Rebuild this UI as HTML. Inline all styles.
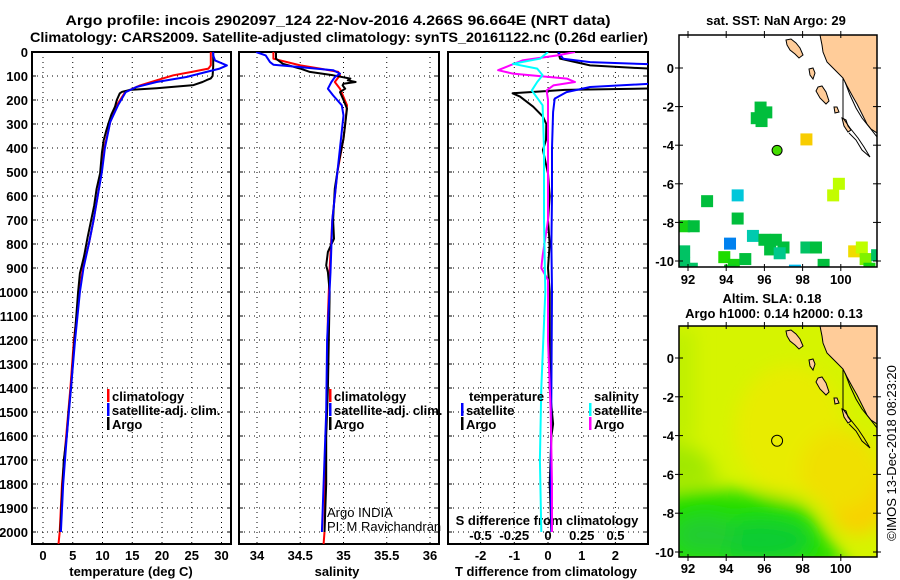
<!DOCTYPE html>
<html><head><meta charset="utf-8"><style>
html,body{margin:0;padding:0;background:#fff;}
svg{display:block;font-family:"Liberation Sans",sans-serif;}
.b{font-weight:bold;font-size:13px;}
.n{font-weight:normal;font-size:13px;}
</style></head><body>
<svg id="chart" xmlns="http://www.w3.org/2000/svg" width="900" height="580" viewBox="0 0 900 580">
<defs>
<clipPath id="c1"><rect x="32" y="52" width="199" height="492"/></clipPath>
<clipPath id="c2"><rect x="239" y="52" width="200" height="492"/></clipPath>
<clipPath id="c3"><rect x="448" y="52" width="200" height="492"/></clipPath>
<clipPath id="cm1"><rect x="679" y="35" width="198" height="232"/></clipPath>
<clipPath id="cm2"><rect x="679" y="326" width="198" height="231"/></clipPath>
<filter id="blur" x="-20%" y="-20%" width="140%" height="140%"><feGaussianBlur stdDeviation="9"/></filter>
<g id="land">
<polygon points="820,35 822,45 823,52 827,62 832,67 837,72 843,78 847,86 853,97 857,104 860,110 864,118 867,124 871,129 877,133 877,35" fill="#ffcc99" stroke="#000" stroke-width="1"/>
<polygon points="786,40 791,39 796,43 800,48 803,55 799,58 795,54 790,50 787,45" fill="#ffcc99" stroke="#000" stroke-width="1"/>
<polygon points="809,69 813,68 815,73 813,79 810,75" fill="#ffcc99" stroke="#000" stroke-width="1"/>
<polygon points="818,87 822,86 826,92 829,101 826,104 820,98 816,91" fill="#ffcc99" stroke="#000" stroke-width="1"/>
<polygon points="834,107 837,107 839,112 835,113" fill="#ffcc99" stroke="#000" stroke-width="1"/>
<polygon points="842,118 846,120 848,126 851,130 848,132 844,126" fill="#ffcc99" stroke="#000" stroke-width="1"/>
<polyline points="843,78 843,118" fill="none" stroke="#000" stroke-width="1"/>
<polyline points="845,82 850,95 856,108 862,118 870,128 877,137" fill="none" stroke="#000" stroke-width="1"/>
<polyline points="843,118 850,128 858,138 864,147 870,157 862,150 856,140 849,133" fill="none" stroke="#000" stroke-width="1"/>
</g>
</defs>
<g id="layer"></g>
</svg>
<script>
// ---------- data ----------
const depthTicks = [0,100,200,300,400,500,600,700,800,900,1000,1100,1200,1300,1400,1500,1600,1700,1800,1900,2000];
const tempTicks = [0,5,10,15,20,25,30];
const salTicks = [34,34.5,35,35.5,36];
const salTickLabels = ["34","34.5","35","35.5","36"];
const tdTicks = [-2,-1,0,1,2];
const sdTicks = [-0.5,-0.25,0,0.25,0.5];
const sdTickLabels = ["-0.5","-0.25","0","0.25","0.5"];

const argoTDepth = [0,20,60,100,110,117,125,138,151,158,166,172,200,228,260,297,330,367,420,506,570,639,700,772,850,922,1000,1100,1200,1300,1400,1500,1600,1700,1800,1900,2000];
const argoT = [28.6,28.6,28.6,28.5,28.2,27.5,26.8,25.3,19.1,14.6,13.3,12.9,12.4,12.1,11.5,11.0,10.6,10.2,9.9,9.6,9.0,8.6,8.1,7.5,6.9,6.2,5.9,5.6,5.3,5.0,4.7,4.3,4.0,3.5,3.3,3.1,2.9];
const climTDepth = [0,56,69,83,97,118,139,167,222,292,400,500,600,700,800,900,1000,1200,1400,1600,1800,2000,2050];
const climT = [28.2,28.2,27.8,25.0,21.9,19.1,16.3,13.8,12.4,11.3,10.3,9.8,9.2,8.5,7.7,6.7,6.1,5.2,4.6,3.9,3.2,2.8,2.6];
const satTDepth = [0,14,35,56,69,83,104,125,146,167,222,292,400,500,600,700,800,900,1000,1200,1400,1600,1800,2000];
const satT = [28.6,28.6,28.9,30.9,29.7,27.5,24.1,19.1,15.7,13.9,12.6,11.3,10.4,9.9,9.2,8.5,7.7,6.8,6.2,5.4,4.7,4.0,3.4,3.0];

const argoSDepth = [0,28,49,69,83,97,111,118,125,132,139,153,167,200,236,300,361,450,569,700,778,833,889,917,1000,1200,1400,1600,1800,2000];
const argoS = [34.22,34.22,34.3,34.5,34.61,34.88,35.08,35.05,35.14,35.0,34.99,35.02,34.96,35.0,35.04,35.02,35.0,34.95,34.9,34.88,34.89,34.82,34.8,34.82,34.84,34.83,34.82,34.8,34.8,34.78];
const climSDepth = [0,28,56,69,83,97,125,153,222,300,361,500,700,900,1100,1400,1700,2000,2050];
const climS = [34.19,34.19,34.5,34.73,34.94,34.96,34.9,34.96,35.04,35.02,35.0,34.93,34.87,34.84,34.82,34.81,34.79,34.78,34.77];
const satSDepth = [0,14,42,53,63,76,90,105,125,153,181,222,264,400,500,700,917,1200,1500,1800,2000];
const satS = [33.99,34.1,34.15,34.19,34.5,34.88,34.96,34.9,34.86,34.82,34.88,34.98,35.0,34.96,34.93,34.87,34.85,34.81,34.8,34.77,34.75];

const argoTdDepth = [0,28,56,66,76,150,158,172,186,228,269,300,367,408,506,600,700,800,900,1000,1200,1400,1550,1600,1800,2000];
const argoTd = [0.3,0.36,1.25,2.5,4,4,0.5,-1.05,-0.83,-0.44,-0.15,-0.05,-0.06,-0.15,0.0,0.05,0.0,0.05,0.0,0.05,0.05,0.05,0.15,0.1,0.05,0.1];
const satTdDepth = [0,28,42,56,125,146,167,194,250,400,600,800,1000,1400,1800,2000];
const satTd = [0.3,0.45,1.25,4,4,1.25,0.55,0.2,0.15,0.12,0.12,0.1,0.12,0.1,0.08,0.1];
const argoSdDepth = [0,14,35,76,90,111,125,139,160,200,300,500,700,850,900,950,1200,1500,1800,2000];
const argoSd = [0.2,0.07,-0.19,-0.37,-0.26,0.14,0.2,0.04,-0.01,0.0,0.0,0.0,0.0,-0.04,-0.05,0.0,0.0,0.02,0.03,0.03];
const satSdDepth = [0,28,49,69,97,125,160,222,400,700,1000,1400,1700,2000];
const satSd = [0,-0.06,-0.26,-0.08,-0.04,-0.08,-0.12,-0.04,-0.03,-0.03,-0.02,-0.05,-0.06,-0.05];

const mapLonTicks = [92,94,96,98,100];
const mapLatTicks = [0,-2,-4,-6,-8,-10];
const sstLon = [95.8,96.1,95.6,95.85,98.2,99.9,99.6,94.6,93.0,94.6,91.8,92.3,95.4,94.2,96.0,96.6,97.0,96.3,96.8,98.2,98.7,99.1,97.6,93.9,94.4,95.0,94.2,91.8,91.8,92.2,100.7,101.1,101.3,101.5,101.9];
const sstLat = [-2.05,-2.3,-2.6,-2.75,-3.7,-6.0,-6.6,-6.6,-6.9,-7.8,-8.2,-8.2,-8.7,-9.1,-8.9,-8.9,-9.3,-9.4,-9.6,-9.3,-9.3,-10.2,-10.5,-9.8,-10.2,-9.9,-10.5,-9.5,-10.1,-10.4,-9.5,-9.3,-9.9,-10.4,-9.7];
const sstVal = [0.55,0.55,0.55,0.55,0.9,0.75,0.76,0.32,0.55,0.55,0.6,0.55,0.4,0.15,0.55,0.55,0.55,0.55,0.45,0.5,0.55,0.55,0.25,0.62,0.6,0.55,0.58,0.5,0.5,0.5,0.85,0.75,0.7,0.6,0.5];
const argoLon = 96.664, argoLat = -4.266;

// ---------- scales ----------
const yD = d => 52 + d*0.24;
const xT = t => 43 + t*5.95;
const xS = s => 257 + (s-34)*86.5;
const xTd = v => 548 + v*33.7;
const xSd = v => 548 + v*135;
const xLon = lon => 688 + (lon-92)*19.1;
const yLat1 = lat => 68 - lat*19.3;
const yLat2 = lat => 358 - lat*19.4;

const NS = "http://www.w3.org/2000/svg";
const layer = document.getElementById('layer');
function mk(tag, attrs, parent){ const e=document.createElementNS(NS,tag); for(const k in attrs) e.setAttribute(k,attrs[k]); (parent||layer).appendChild(e); return e; }
function txt(x,y,s,anchor,cls,parent){ const t=mk('text',{x:x,y:y,'text-anchor':anchor||'middle',class:cls||'b'},parent); t.textContent=s; return t; }

// ---------- titles ----------
let t1 = txt(338,25,"Argo profile: incois 2902097_124 22-Nov-2016 4.266S 96.664E (NRT data)");
t1.setAttribute('style','font-size:14px'); t1.setAttribute('textLength','545'); t1.setAttribute('lengthAdjust','spacingAndGlyphs');


let t2 = txt(339,42,"Climatology: CARS2009. Satellite-adjusted climatology: synTS_20161122.nc (0.26d earlier)");
t2.setAttribute('style','font-size:14px'); t2.setAttribute('textLength','618'); t2.setAttribute('lengthAdjust','spacingAndGlyphs');



// ---------- profile panels ----------
const panels = [
  {x0:32,x1:231,clip:'c1',name:'temperature-panel',ticks:tempTicks,labels:tempTicks.map(String),sx:xT,xlabel:'temperature (deg C)',xlc:131},
  {x0:239,x1:439,clip:'c2',name:'salinity-panel',ticks:salTicks,labels:salTickLabels,sx:xS,xlabel:'salinity',xlc:337},
  {x0:448,x1:648,clip:'c3',name:'difference-panel',ticks:tdTicks,labels:tdTicks.map(String),sx:xTd,xlabel:'T difference from climatology',xlc:546}
];
panels.forEach((p,pi)=>{
  const g = mk('g',{});
  
  
  depthTicks.forEach(d=>{
    const l = mk('line',{x1:p.x0,x2:p.x1,y1:yD(d),y2:yD(d),stroke:'#000','stroke-width':1,'stroke-dasharray':'1,4'},g);
    
    
    mk('line',{x1:p.x0,x2:p.x0+4,y1:yD(d),y2:yD(d),stroke:'#000'},g);
    mk('line',{x1:p.x1-4,x2:p.x1,y1:yD(d),y2:yD(d),stroke:'#000'},g);
  });
  p.ticks.forEach((v,i)=>{
    const x = p.sx(v);
    const l = mk('line',{x1:x,x2:x,y1:52,y2:544,stroke:'#000','stroke-width':1,'stroke-dasharray':'1,4'},g);
    
    
    const tl = txt(x,560,p.labels[i],'middle','b',g);
    
    
  });
  const fr = mk('rect',{x:p.x0,y:52,width:p.x1-p.x0,height:492,fill:'none',stroke:'#000','stroke-width':2},g);
  
  
  const xl = txt(p.xlc,576,p.xlabel,'middle','b',g);
  
  
});
depthTicks.forEach(d=>{
  const tl = txt(28,yD(d)+5,String(d),'end');
  
  
});

const sdTitle = txt(547,525,'S difference from climatology');


sdTicks.forEach((v,i)=>{
  const tl = txt(xSd(v),540,sdTickLabels[i]);
  
  
});

function series(depths, vals, sx, color, clip, name){
  const pts = depths.map((d,i)=> sx(vals[i]).toFixed(1)+','+yD(d).toFixed(1)).join(' ');
  const pl = mk('polyline',{points:pts,fill:'none',stroke:color,'stroke-width':2,'stroke-linejoin':'round','clip-path':'url(#'+clip+')'});
  
  
}
series(climTDepth, climT, xT, '#ff0000','c1','temperature-climatology-line');
series(argoTDepth, argoT, xT, '#000000','c1','temperature-argo-line');
series(satTDepth, satT, xT, '#0000ff','c1','temperature-satellite-line');
series(climSDepth, climS, xS, '#ff0000','c2','salinity-climatology-line');
series(argoSDepth, argoS, xS, '#000000','c2','salinity-argo-line');
series(satSDepth, satS, xS, '#0000ff','c2','salinity-satellite-line');
series(argoTdDepth, argoTd, xTd, '#000000','c3','t-diff-argo-line');
series(satTdDepth, satTd, xTd, '#0000ff','c3','t-diff-satellite-line');
series(argoSdDepth, argoSd, xSd, '#ff00ff','c3','s-diff-argo-line');
series(satSdDepth, satSd, xSd, '#00ffff','c3','s-diff-satellite-line');

// ---------- legends ----------
function legendItem(x,y,color,label,name){
  const g = mk('g',{});
  
  
  mk('rect',{x:x,y:y-10,width:2.5,height:13,fill:color},g);
  txt(x+5,y+2,label,'start','b',g);
}
legendItem(107,399,'#ff0000','climatology','legend-temp-climatology');
legendItem(107,413,'#0000ff','satellite-adj. clim.','legend-temp-satellite');
legendItem(107,427,'#000000','Argo','legend-temp-argo');
legendItem(329,399,'#ff0000','climatology','legend-sal-climatology');
legendItem(329,413,'#0000ff','satellite-adj. clim.','legend-sal-satellite');
legendItem(329,427,'#000000','Argo','legend-sal-argo');
const lgT = txt(469,401,'temperature','start');


const lgS = txt(594,401,'salinity','start');


legendItem(461,413,'#0000ff','satellite','legend-tdiff-satellite');
legendItem(461,427,'#000000','Argo','legend-tdiff-argo');
legendItem(589,413,'#00ffff','satellite','legend-sdiff-satellite');
legendItem(589,427,'#ff00ff','Argo','legend-sdiff-argo');

const pi1 = txt(327,517,'Argo INDIA','start','n');


const pi2 = txt(327,531,'PI: M Ravichandran','start','n');



// ---------- maps ----------
function ramp(v){
  const stops=[[0.1,[0,100,240]],[0.25,[0,187,238]],[0.35,[0,204,210]],[0.45,[0,200,140]],[0.55,[0,190,60]],[0.62,[30,220,0]],[0.75,[190,255,0]],[0.85,[240,220,0]],[0.95,[255,190,0]]];
  if(v<=stops[0][0]) return 'rgb('+stops[0][1]+')';
  for(let i=1;i<stops.length;i++){ if(v<=stops[i][0]){ const a=stops[i-1],b=stops[i],f=(v-a[0])/(b[0]-a[0]); const c=a[1].map((x,j)=>Math.round(x+(b[1][j]-x)*f)); return 'rgb('+c+')'; } }
  return 'rgb('+stops[stops.length-1][1]+')';
}
function mapAxes(g,top,bottom,yLat,labelY){
  mapLatTicks.forEach(lat=>{
    const y=yLat(lat);
    mk('line',{x1:675,x2:683,y1:y,y2:y,stroke:'#000'},g);
    mk('line',{x1:873,x2:881,y1:y,y2:y,stroke:'#000'},g);
    const tl = txt(674,y+5,String(lat),'end','b',g);
    
    
  });
  mapLonTicks.forEach(lon=>{
    const x=xLon(lon);
    mk('line',{x1:x,x2:x,y1:top-4,y2:top+3,stroke:'#000'},g);
    mk('line',{x1:x,x2:x,y1:bottom-3,y2:bottom+4,stroke:'#000'},g);
    const tl = txt(x,labelY,String(lon),'middle','b',g);
    
    
  });
}
const m1 = mk('g',{});


const m1t = txt(776,25,'sat. SST: NaN Argo: 29','middle','b',m1);


const cells = mk('g',{'clip-path':'url(#cm1)'},m1);
sstLon.forEach((lon,i)=>{
  const r = mk('rect',{x:xLon(lon)-6,y:yLat1(sstLat[i])-6,width:12,height:12,fill:ramp(sstVal[i])},cells);
  
  
});
const land1 = mk('use',{href:'#land','clip-path':'url(#cm1)'},m1);


const dot1 = mk('circle',{cx:xLon(argoLon),cy:yLat1(argoLat),r:5,fill:'#44dd00',stroke:'#000','stroke-width':1},m1);


mk('rect',{x:679,y:35,width:198,height:232,fill:'none',stroke:'#000','stroke-width':1.5},m1);
mapAxes(m1,35,267,yLat1,284);

const m2 = mk('g',{});


const m2t = txt(772,303,'Altim. SLA: 0.18','middle','b',m2);


const m2t2 = txt(774,318,'Argo h1000: 0.14 h2000: 0.13','middle','b',m2);


const field = mk('g',{'clip-path':'url(#cm2)'},m2);


mk('rect',{x:679,y:326,width:198,height:231,fill:'#d6f400'},field);
const fb = mk('g',{filter:'url(#blur)'},field);
mk('ellipse',{cx:790,cy:430,rx:55,ry:65,fill:'#e8ec00'},fb);
mk('ellipse',{cx:858,cy:495,rx:32,ry:40,fill:'#f8d200'},fb);
mk('ellipse',{cx:840,cy:470,rx:40,ry:40,fill:'#f0e000'},fb);
mk('rect',{x:660,y:330,width:35,height:110,fill:'#c0f000'},fb);
mk('polygon',{points:'660,440 700,450 720,480 660,490',fill:'#a0e800'},fb);
mk('polygon',{points:'660,495 700,490 735,490 765,495 790,500 810,510 830,540 850,570 660,570',fill:'#22dd00'},fb);
mk('ellipse',{cx:760,cy:540,rx:50,ry:20,fill:'#10cc30'},fb);
mk('ellipse',{cx:705,cy:535,rx:30,ry:18,fill:'#20cc30'},fb);
const land2 = mk('use',{href:'#land',transform:'translate(0,291)','clip-path':'url(#cm1)'},field);


const dot2 = mk('circle',{cx:xLon(argoLon),cy:yLat2(argoLat),r:5.5,fill:'none',stroke:'#000','stroke-width':1},m2);


mk('rect',{x:679,y:326,width:198,height:231,fill:'none',stroke:'#000','stroke-width':1.5},m2);
mapAxes(m2,326,557,yLat2,573);

const stamp = txt(0,0,'©IMOS 13-Dec-2018 08:23:20','middle','n');
stamp.setAttribute('transform','translate(896,453) rotate(-90)');


</script>
</body></html>
